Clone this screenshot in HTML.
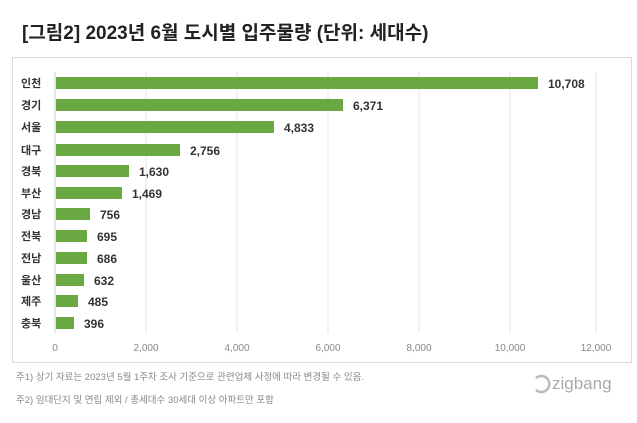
<!DOCTYPE html>
<html><head><meta charset="utf-8"><style>
body{margin:0;background:#fff;width:637px;height:418px;overflow:hidden;font-family:"Liberation Sans","Noto Sans CJK KR",sans-serif}
</style></head><body>
<svg width="637" height="418" xmlns="http://www.w3.org/2000/svg" font-family="Liberation Sans, Noto Sans CJK KR, sans-serif">
<text x="22" y="39" font-size="19" font-weight="bold" fill="#222">[그림2] 2023년 6월 도시별 입주물량 (단위: 세대수)</text>
<rect x="12.5" y="57.5" width="619" height="305" fill="#fff" stroke="#ddd"/>
<g stroke="#e6e6e6">
<line x1="146" y1="72" x2="146" y2="333"/><line x1="237" y1="72" x2="237" y2="333"/><line x1="328" y1="72" x2="328" y2="333"/><line x1="419" y1="72" x2="419" y2="333"/><line x1="510" y1="72" x2="510" y2="333"/><line x1="596" y1="72" x2="596" y2="333"/>
</g>
<line x1="55" y1="72" x2="55" y2="333" stroke="#ccc"/>
<g fill="#6aa842">
<rect x="56" y="77" width="482" height="12"/>
<rect x="56" y="99" width="287" height="12"/>
<rect x="56" y="121" width="218" height="12"/>
<rect x="56" y="144" width="124" height="12"/>
<rect x="56" y="165" width="73" height="12"/>
<rect x="56" y="187" width="66" height="12"/>
<rect x="56" y="208" width="34" height="12"/>
<rect x="56" y="230" width="31" height="12"/>
<rect x="56" y="252" width="31" height="12"/>
<rect x="56" y="274" width="28" height="12"/>
<rect x="56" y="295" width="22" height="12"/>
<rect x="56" y="317" width="18" height="12"/>
</g>
<g font-size="11" font-weight="bold" fill="#333">
<text x="21" y="87">인천</text><text x="21" y="109">경기</text><text x="21" y="131">서울</text><text x="21" y="154">대구</text><text x="21" y="175">경북</text><text x="21" y="197">부산</text><text x="21" y="218">경남</text><text x="21" y="240">전북</text><text x="21" y="262">전남</text><text x="21" y="284">울산</text><text x="21" y="305">제주</text><text x="21" y="327">충북</text>
</g>
<g font-size="12" font-weight="bold" fill="#333">
<text x="548" y="88">10,708</text><text x="353" y="110">6,371</text><text x="284" y="132">4,833</text><text x="190" y="155">2,756</text><text x="139" y="176">1,630</text><text x="132" y="198">1,469</text><text x="100" y="219">756</text><text x="97" y="241">695</text><text x="97" y="263">686</text><text x="94" y="285">632</text><text x="88" y="306">485</text><text x="84" y="328">396</text>
</g>
<g font-size="10" fill="#888" text-anchor="middle">
<text x="55" y="351">0</text><text x="146" y="351">2,000</text><text x="237" y="351">4,000</text><text x="328" y="351">6,000</text><text x="419" y="351">8,000</text><text x="510" y="351">10,000</text><text x="596" y="351">12,000</text>
</g>
<g font-size="9.5" fill="#888">
<text x="16" y="380">주1) 상기 자료는 2023년 5월 1주차 조사 기준으로 관련업체 사정에 따라 변경될 수 있음.</text>
<text x="16" y="403">주2) 임대단지 및 연립 제외 / 총세대수 30세대 이상 아파트만 포함</text>
</g>
<path d="M536 378 a8 8 0 1 1 0 12" fill="none" stroke="#bbb" stroke-width="2.5"/>
<text x="552" y="389" font-size="17" fill="#aaa">zigbang</text>
</svg>
</body></html>
